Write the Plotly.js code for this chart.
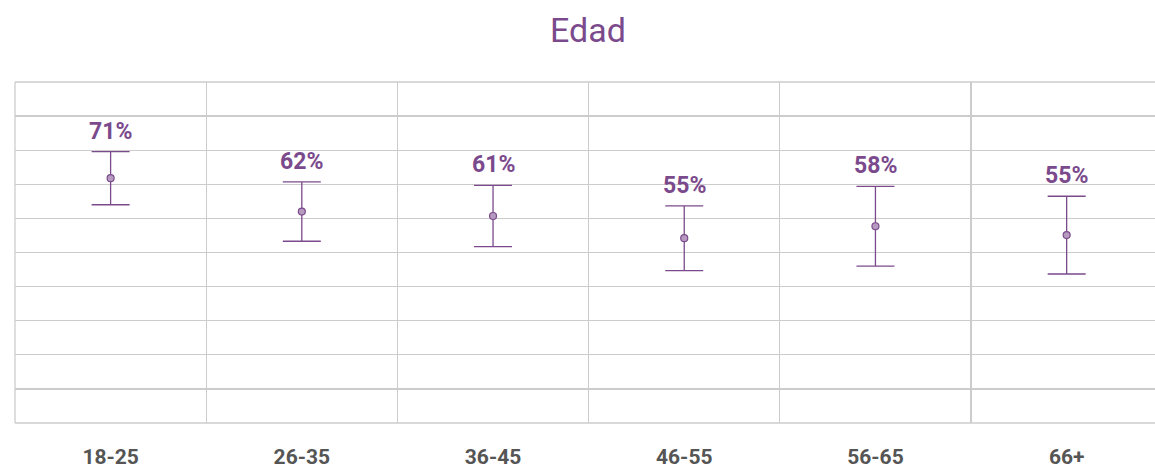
<!DOCTYPE html>
<html><head><meta charset="utf-8">
<script src="https://cdn.plot.ly/plotly-3.0.1.min.js"></script>
<style>html,body{margin:0;padding:0;background:#fff}</style>
</head><body><div id="chart" style="width:1155px;height:470px"></div>
<script>
const categories = ["18-25","26-35","36-45","46-55","56-65","66+"];
const values = [0.718, 0.620, 0.607, 0.542, 0.577, 0.551];
const errors = [0.078, 0.087, 0.090, 0.095, 0.117, 0.114];
const labels = ["71%","62%","61%","55%","58%","55%"];

const purple = "#7b4a8c";
const grid = "#cccccc";
const trace = {
  type: "scatter", mode: "markers",
  x: categories, y: values,
  marker: {size: 7, color: "#b69ac0", line: {color: purple, width: 1.2}},
  error_y: {type: "data", array: errors, visible: true, color: purple, thickness: 1.3, width: 19},
  hoverinfo: "skip"
};
const annotations = categories.map((c, i) => ({
  x: c, y: values[i] + errors[i], xref: "x", yref: "y",
  text: labels[i], showarrow: false, yanchor: "bottom", yshift: 5,
  font: {family: "Roboto", size: 23, color: purple, weight: 700}
}));
const layout = {
  width: 1155, height: 470,
  margin: {l: 15, r: 0, t: 82, b: 47},
  paper_bgcolor: "#fff", plot_bgcolor: "#fff",
  showlegend: false,
  title: {text: "Edad", font: {family: "Roboto", size: 34, color: purple}, x: 0.509, xanchor: "center", y: 0.935, yanchor: "middle"},
  xaxis: {type: "category", tickson: "boundaries", showgrid: true, gridcolor: grid, gridwidth: 1.3,
          range: [-0.5, 5.462], zeroline: false, showline: false,
          ticks: "", ticklabelstandoff: 19,
          tickfont: {family: "Roboto", size: 21, color: "#555555", weight: 700}},
  yaxis: {range: [0, 1], dtick: 0.1, showgrid: true, gridcolor: grid, gridwidth: 1.3,
          showticklabels: false, zeroline: false, showline: false, ticks: ""},
  shapes: [
    {type: "line", xref: "paper", yref: "paper", x0: 0, x1: 1.05, y0: 1, y1: 1, line: {color: grid, width: 1.3}},
    {type: "line", xref: "paper", yref: "paper", x0: 0, x1: 1.05, y0: 0, y1: 0, line: {color: grid, width: 1.3}},
    {type: "line", xref: "paper", yref: "paper", x0: 0, x1: 0, y0: 0, y1: 1, line: {color: grid, width: 1.3}}
  ],
  annotations: annotations
};
Plotly.newPlot("chart", [trace], layout, {displayModeBar: false, staticPlot: true});
</script></body></html>
